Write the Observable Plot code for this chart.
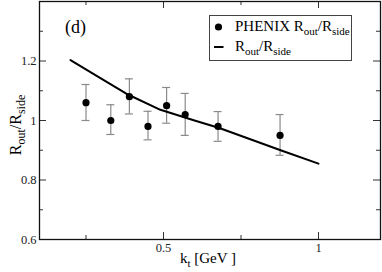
<!DOCTYPE html>
<html>
<head>
<meta charset="utf-8">
<script src="https://cdn.jsdelivr.net/npm/d3@7"></script>
<script src="https://cdn.jsdelivr.net/npm/@observablehq/plot@0.6"></script>
<style>
  html, body { margin: 0; padding: 0; background: #fff; }
</style>
</head>
<body>
<div id="chart"></div>
<script>
// PHENIX measured points
const ktData = [0.25, 0.33, 0.39, 0.45, 0.51, 0.57, 0.676, 0.876];
const ratioData = [1.06, 1.0, 1.08, 0.98, 1.05, 1.02, 0.98, 0.95];
const ratioLow = [1.0, 0.953, 1.022, 0.935, 0.991, 0.95, 0.93, 0.883];
const ratioHigh = [1.121, 1.053, 1.14, 1.031, 1.111, 1.091, 1.03, 1.02];

// model curve
const ktModel = [0.2, 0.275, 0.38, 0.49, 0.6, 0.68, 0.88, 1.0];
const ratioModel = [1.203, 1.156, 1.09, 1.036, 1.0, 0.975, 0.899, 0.855];

// axis ticks
const xMajor = [0.5, 1];
const xMajorLabels = ["0.5", "1"];
const xMinor = [0.25, 0.75];
const yMajor = [0.6, 0.8, 1.0, 1.2];
const yMajorLabels = ["0.6", "0.8", "1", "1.2"];
const yMinor = [0.7, 0.9, 1.1, 1.3];

const W = 382, H = 272;
const mL = 39, mR = 2, mT = 1, mB = 33;
const FW = W - mL - mR, FH = H - mT - mB;
const majorLen = 7, minorLen = 4;
const tickColor = "#333";
const font = "'Liberation Serif', 'DejaVu Serif', serif";

const points = ktData.map((k, i) => ({k, r: ratioData[i], lo: ratioLow[i], hi: ratioHigh[i]}));
const model = ktModel.map((k, i) => ({k, r: ratioModel[i]}));

const chart = Plot.plot({
  width: W, height: H,
  marginLeft: mL, marginRight: mR, marginTop: mT, marginBottom: mB,
  x: {domain: [0.1, 1.2], axis: null},
  y: {domain: [0.6, 1.4], axis: null},
  style: {fontFamily: font, background: "#fff", color: "#000"},
  marks: [
    // inward ticks: left / right
    Plot.ruleY(yMajor, {y: d => d, insetRight: FW - majorLen, stroke: tickColor}),
    Plot.ruleY(yMinor, {y: d => d, insetRight: FW - minorLen, stroke: tickColor}),
    Plot.ruleY(yMajor, {y: d => d, insetLeft: FW - majorLen, stroke: tickColor}),
    Plot.ruleY(yMinor, {y: d => d, insetLeft: FW - minorLen, stroke: tickColor}),
    // inward ticks: bottom / top
    Plot.ruleX(xMajor, {x: d => d, insetTop: FH - majorLen, stroke: tickColor}),
    Plot.ruleX(xMinor, {x: d => d, insetTop: FH - minorLen, stroke: tickColor}),
    Plot.ruleX(xMajor, {x: d => d, insetBottom: FH - majorLen, stroke: tickColor}),
    Plot.ruleX(xMinor, {x: d => d, insetBottom: FH - minorLen, stroke: tickColor}),
    // tick labels
    Plot.text(yMajor, {y: d => d, frameAnchor: "left", dx: -3, textAnchor: "end",
      text: (d, i) => yMajorLabels[i], fontSize: 12.5, fontFamily: font, fill: "#222"}),
    Plot.text(xMajor, {x: d => d, frameAnchor: "bottom", dy: 4, lineAnchor: "top",
      text: (d, i) => xMajorLabels[i], fontSize: 12.5, fontFamily: font, fill: "#222"}),
    // error bars
    Plot.ruleX(points, {x: "k", y1: "lo", y2: "hi", stroke: "#8a8a8a", strokeWidth: 1.2}),
    Plot.ruleY(points, {y: "hi", x1: "k", x2: "k", insetLeft: -4, insetRight: -4, stroke: "#8a8a8a", strokeWidth: 1.2}),
    Plot.ruleY(points, {y: "lo", x1: "k", x2: "k", insetLeft: -4, insetRight: -4, stroke: "#8a8a8a", strokeWidth: 1.2}),
    // model curve
    Plot.line(model, {x: "k", y: "r", stroke: "#000", strokeWidth: 2}),
    // data points
    Plot.dot(points, {x: "k", y: "r", r: 3.6, fill: "#000", stroke: "none"}),
    Plot.frame({stroke: "#111", strokeWidth: 1.3})
  ]
});

document.getElementById("chart").appendChild(chart);

const svg = d3.select(chart);

function ratioText(sel, sub, shift) {
  sel.append("tspan").text("R");
  sel.append("tspan").attr("dy", shift).attr("font-size", sub).text("out");
  sel.append("tspan").attr("dy", -shift).text("/R");
  sel.append("tspan").attr("dy", shift).attr("font-size", sub).text("side");
}

// panel label
svg.append("text").attr("x", 65).attr("y", 33).attr("text-anchor", "start")
  .attr("font-family", font).attr("font-size", 18).attr("fill", "#000").text("(d)");

// legend
const lg = svg.append("g");
lg.append("rect").attr("x", 209.5).attr("y", 15.5).attr("width", 142).attr("height", 45)
  .attr("fill", "#fff").attr("stroke", "#444").attr("stroke-width", 1);
lg.append("circle").attr("cx", 218.5).attr("cy", 27).attr("r", 3.6).attr("fill", "#000");
lg.append("line").attr("x1", 214).attr("x2", 223.5).attr("y1", 47).attr("y2", 47)
  .attr("stroke", "#000").attr("stroke-width", 2);
const t1 = lg.append("text").attr("x", 235).attr("y", 31).attr("text-anchor", "start")
  .attr("font-family", font).attr("font-size", 15).attr("fill", "#000");
t1.append("tspan").text("PHENIX ");
ratioText(t1, 11, 4);
const t2 = lg.append("text").attr("x", 235).attr("y", 51).attr("text-anchor", "start")
  .attr("font-family", font).attr("font-size", 15).attr("fill", "#000");
ratioText(t2, 11, 4);

// y axis label
const yl = svg.append("text").attr("transform", "translate(21,125) rotate(-90)")
  .attr("text-anchor", "middle").attr("font-family", font).attr("font-size", 16).attr("fill", "#000");
ratioText(yl, 12, 4);

// x axis label
const xl = svg.append("text").attr("x", 208).attr("y", 263).attr("text-anchor", "middle")
  .attr("font-family", font).attr("font-size", 15).attr("fill", "#000");
xl.append("tspan").text("k");
xl.append("tspan").attr("dy", 4).attr("font-size", 11).text("t");
xl.append("tspan").attr("dy", -4).text(" [GeV ]");
</script>
</body>
</html>
